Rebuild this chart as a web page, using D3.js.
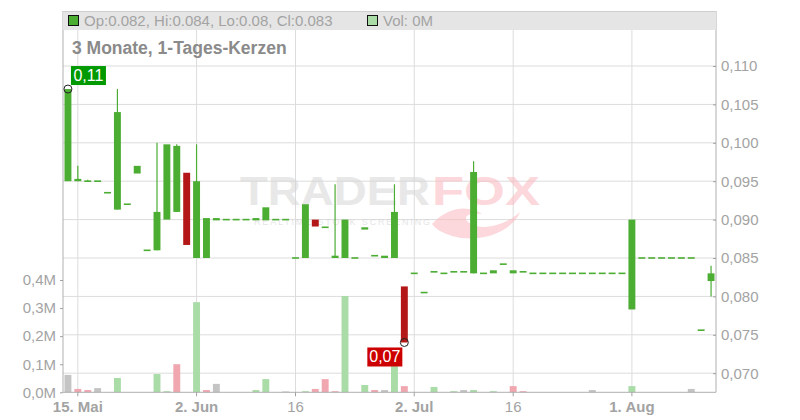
<!DOCTYPE html>
<html><head><meta charset="utf-8">
<script src="https://cdn.jsdelivr.net/npm/d3@7"></script>
<style>
html,body{margin:0;padding:0;background:#fff;}
svg{display:block;font-family:"Liberation Sans",Arial,sans-serif;}
</style></head>
<body><svg id="c" width="800" height="420"></svg>
<script>
const dates = ["2025-05-14","2025-05-15","2025-05-16","2025-05-19","2025-05-20","2025-05-21","2025-05-22","2025-05-23",
"2025-05-26","2025-05-27","2025-05-28","2025-05-29","2025-05-30","2025-06-02","2025-06-03","2025-06-04","2025-06-05","2025-06-06",
"2025-06-09","2025-06-10","2025-06-11","2025-06-12","2025-06-13","2025-06-16","2025-06-17","2025-06-18","2025-06-19","2025-06-20",
"2025-06-23","2025-06-24","2025-06-25","2025-06-26","2025-06-27","2025-06-30","2025-07-01","2025-07-02","2025-07-03","2025-07-04",
"2025-07-07","2025-07-08","2025-07-09","2025-07-10","2025-07-11","2025-07-14","2025-07-15","2025-07-16","2025-07-17","2025-07-18",
"2025-07-21","2025-07-22","2025-07-23","2025-07-24","2025-07-25","2025-07-28","2025-07-29","2025-07-30","2025-07-31","2025-08-01",
"2025-08-04","2025-08-05","2025-08-06","2025-08-07","2025-08-08","2025-08-11","2025-08-12","2025-08-13"];
const open  = [0.095,0.095,0.095,0.095,0.0935,0.0913,0.092,0.096,0.086,0.086,0.090,0.091,0.0961,0.085,0.085,0.0899,0.090,0.090,
0.090,0.0899,0.0899,0.090,0.090,0.085,0.085,0.090,0.089,0.085,0.085,0.085,0.0887,0.0853,0.085,0.085,0.0813,0.083,0.0805,0.083,
0.083,0.083,0.083,0.083,0.083,0.083,0.0842,0.083,0.083,0.083,0.083,0.083,0.083,0.083,0.083,0.083,0.083,0.083,0.083,0.0783,
0.085,0.085,0.085,0.085,0.085,0.085,0.0756,0.082];
const high  = [0.107,0.097,0.0952,0.095,0.0935,0.107,0.092,0.097,0.086,0.100,0.0998,0.0998,0.0961,0.0998,0.0902,0.0902,0.090,0.090,
0.090,0.0902,0.0916,0.090,0.090,0.085,0.092,0.090,0.089,0.0946,0.090,0.085,0.089,0.0853,0.0853,0.0946,0.0813,0.083,0.0805,0.0832,
0.083,0.0832,0.0832,0.0976,0.083,0.0834,0.0842,0.0834,0.0832,0.083,0.083,0.083,0.083,0.083,0.083,0.083,0.083,0.083,0.083,0.090,
0.085,0.085,0.085,0.085,0.085,0.085,0.0756,0.084];
const low   = [0.095,0.095,0.095,0.095,0.0935,0.0913,0.092,0.096,0.086,0.086,0.090,0.091,0.0867,0.085,0.085,0.0899,0.090,0.090,
0.090,0.0899,0.0899,0.090,0.090,0.085,0.085,0.0891,0.089,0.085,0.085,0.085,0.0887,0.0853,0.085,0.085,0.074,0.083,0.0805,0.083,
0.083,0.083,0.083,0.083,0.083,0.083,0.0842,0.083,0.083,0.083,0.083,0.083,0.083,0.083,0.083,0.083,0.083,0.083,0.083,0.0783,
0.085,0.085,0.085,0.085,0.085,0.085,0.0756,0.080];
const close = [0.107,0.0953,0.095,0.095,0.0935,0.104,0.092,0.097,0.086,0.091,0.0998,0.0996,0.0867,0.095,0.0902,0.0902,0.090,0.090,
0.090,0.0902,0.0916,0.090,0.090,0.085,0.092,0.0891,0.089,0.0853,0.090,0.085,0.089,0.0853,0.0853,0.091,0.074,0.083,0.0805,0.0832,
0.083,0.0832,0.0832,0.0962,0.083,0.0834,0.0842,0.0834,0.0832,0.083,0.083,0.083,0.083,0.083,0.083,0.083,0.083,0.083,0.083,0.090,
0.085,0.085,0.085,0.085,0.085,0.085,0.0756,0.083];
const volume = [0.062,0.012,0.008,0.015,0,0.051,0,0,0,0.065,0.004,0.100,0,0.321,0.008,0.030,0,0,
0,0.008,0.047,0,0.003,0,0.004,0.012,0.047,0.004,0.343,0,0.026,0.008,0.008,0.12,0.022,0,0,0.019,
0,0.004,0.008,0.008,0,0.004,0,0.022,0.004,0,0,0,0,0,0,0.008,0,0,0,0.022,
0,0,0,0,0,0.012,0,0];
const tickDates  = ["2025-05-15","2025-06-02","2025-06-16","2025-07-02","2025-07-16","2025-08-01"];
const tickLabels = ["15. Mai","2. Jun","16","2. Jul","16","1. Aug"];
const tickBold   = [true,true,false,true,false,true];
const priceTicks = [0.070,0.075,0.080,0.085,0.090,0.095,0.100,0.105,0.110];
const volTicks   = [0,0.1,0.2,0.3,0.4];
const title = "3 Monate, 1-Tages-Kerzen";

const svg = d3.select("#c");
const L = 63, R = 716, T = 11, B = 392.3;
const x = d3.scaleBand().domain(dates).range([L, R]).padding(0);
const step = x.step(), bw = step * 0.7;
const cx = d => x(d) + step / 2;
const y = d3.scaleLinear().domain([0.070, 0.110]).range([373.2, 66]);
const yv = d3.scaleLinear().domain([0, 0.4]).range([B, 280]);
const fmtP = v => d3.format(".3f")(v).replace(".", ",");
const fmtV = v => d3.format(".1f")(v).replace(".", ",") + "M";
const grey = "#a3a3a3", grid = "#dcdcdc";
const GREEN = "#4cad33", RED = "#b31717";

// grid
svg.append("g").selectAll("line").data(priceTicks).join("line")
  .attr("x1", L).attr("x2", R).attr("y1", d => y(d)).attr("y2", d => y(d))
  .attr("stroke", grid).attr("stroke-width", 1);
svg.append("g").selectAll("line").data(tickDates).join("line")
  .attr("x1", d => cx(d)).attr("x2", d => cx(d)).attr("y1", T).attr("y2", B)
  .attr("stroke", grid).attr("stroke-width", 1);

// watermark
const wm = svg.append("g").attr("opacity", 0.55);
wm.append("text").attr("x", 240).attr("y", 205).attr("font-size", 40).attr("font-weight", "bold")
  .attr("fill", "#d6d6d6").attr("textLength", 190).attr("lengthAdjust", "spacingAndGlyphs").text("TRADER");
wm.append("text").attr("x", 432).attr("y", 205).attr("font-size", 40).attr("font-weight", "bold")
  .attr("fill", "#fbb9c0").attr("textLength", 108).attr("lengthAdjust", "spacingAndGlyphs").text("FOX");
wm.append("text").attr("x", 254).attr("y", 225).attr("font-size", 9)
  .attr("fill", "#d0d0d0").attr("textLength", 176).attr("lengthAdjust", "spacing").text("REALTIME STOCK SCREENING");
wm.append("path").attr("d", "M432,224 C450,205 470,206 482,214 C470,212 462,216 468,222 C480,232 505,226 520,212 C512,232 480,244 452,236 C444,233 436,230 432,224 Z")
  .attr("fill", "#fbb9c0");

// volume bars
const vcol = i => i === 0 ? "#c4c4c4" : (close[i] > close[i-1] ? "#a9dca6" : (close[i] < close[i-1] ? "#f1a7b0" : "#c4c4c4"));
svg.append("g").selectAll("rect").data(dates).join("rect")
  .attr("x", d => x(d) + (step - bw) / 2).attr("width", bw)
  .attr("y", (d, i) => yv(volume[i])).attr("height", (d, i) => B - yv(volume[i]))
  .attr("fill", (d, i) => vcol(i));

// candles
const cg = svg.append("g");
dates.forEach((d, i) => {
  const col = close[i] < open[i] ? RED : GREEN;
  if (high[i] > Math.max(open[i], close[i]) || low[i] < Math.min(open[i], close[i])) {
    cg.append("line").attr("x1", cx(d)).attr("x2", cx(d)).attr("y1", y(high[i])).attr("y2", y(low[i]))
      .attr("stroke", col).attr("stroke-width", 1.2);
  }
  const top = y(Math.max(open[i], close[i])), bot = y(Math.min(open[i], close[i]));
  const h = Math.max(bot - top, 1.6);
  cg.append("rect").attr("x", x(d) + (step - bw) / 2).attr("width", bw)
    .attr("y", h === bot - top ? top : top - 0.8).attr("height", h).attr("fill", col);
});

// axes lines
svg.append("line").attr("x1", L).attr("x2", L).attr("y1", T).attr("y2", B).attr("stroke", "#b0b0b0");
svg.append("line").attr("x1", R).attr("x2", R).attr("y1", T).attr("y2", B).attr("stroke", "#b0b0b0");
svg.append("line").attr("x1", L).attr("x2", R).attr("y1", B).attr("y2", B).attr("stroke", "#b0b0b0");

// right price axis
const ra = svg.append("g").attr("transform", `translate(${R},0)`)
  .call(d3.axisRight(y).tickValues(priceTicks).tickFormat(fmtP).tickSizeInner(-3).tickSizeOuter(0).tickPadding(5));
ra.select(".domain").remove();
ra.selectAll("line").attr("stroke", "#a0a0a0");
ra.selectAll("text").attr("fill", grey).attr("font-size", 15).attr("font-family", "Liberation Sans, Arial, sans-serif");

// left volume axis
const la = svg.append("g").attr("transform", `translate(${L},0)`)
  .call(d3.axisLeft(yv).tickValues(volTicks).tickFormat(fmtV).tickSizeInner(3).tickSizeOuter(0).tickPadding(4));
la.select(".domain").remove();
la.selectAll("line").attr("stroke", "#a0a0a0");
la.selectAll("text").attr("fill", grey).attr("font-size", 15).attr("font-family", "Liberation Sans, Arial, sans-serif");

// bottom axis
const ba = svg.append("g").attr("transform", `translate(0,${B})`)
  .call(d3.axisBottom(x).tickValues(tickDates).tickFormat((d, i) => tickLabels[i]).tickSizeInner(4).tickSizeOuter(0).tickPadding(5));
ba.select(".domain").remove();
ba.selectAll("line").attr("stroke", "#a0a0a0");
ba.selectAll("text").attr("fill", grey).attr("font-size", 15).attr("font-family", "Liberation Sans, Arial, sans-serif")
  .attr("font-weight", (d, i) => tickBold[i] ? "bold" : "normal");

// header
const last = dates.length - 1;
svg.append("rect").attr("x", L).attr("y", T).attr("width", R - L).attr("height", 19).attr("fill", "#e5e5e5");
svg.append("line").attr("x1", L).attr("x2", R).attr("y1", T + 0.5).attr("y2", T + 0.5).attr("stroke", "#cfcfcf");
svg.append("rect").attr("x", 68.5).attr("y", 15.5).attr("width", 10).attr("height", 10).attr("fill", GREEN).attr("stroke", "#111");
const fmtH = v => String(+v.toFixed(3));
svg.append("text").attr("x", 84).attr("y", 26).attr("font-size", 15).attr("fill", grey)
  .text(`Op:${fmtH(open[last])}, Hi:${fmtH(high[last])}, Lo:${fmtH(low[last])}, Cl:${fmtH(close[last])}`);
svg.append("rect").attr("x", 367.5).attr("y", 15.5).attr("width", 10).attr("height", 10).attr("fill", "#a9dca6").attr("stroke", "#111");
svg.append("text").attr("x", 383).attr("y", 26).attr("font-size", 15).attr("fill", grey).text(`Vol: ${volume[last]}M`);

svg.append("text").attr("x", 72).attr("y", 54).attr("font-size", 17.5).attr("font-weight", "bold").attr("fill", "#8a8a8a").text(title);

// max / min labels
const iMax = d3.maxIndex(high), iMin = d3.minIndex(low);
const mx = cx(dates[iMax]), my = y(high[iMax]);
const nx = cx(dates[iMin]), ny = y(low[iMin]);
svg.append("rect").attr("x", mx + 3).attr("y", my - 23).attr("width", 35).attr("height", 19).attr("fill", "#009a00");
svg.append("text").attr("x", mx + 20.5).attr("y", my - 8).attr("text-anchor", "middle").attr("font-size", 16)
  .attr("fill", "#fff").text(d3.format(".2f")(high[iMax]).replace(".", ","));
svg.append("circle").attr("cx", mx).attr("cy", my).attr("r", 4).attr("fill", "none").attr("stroke", "#222").attr("stroke-width", 1);
svg.append("rect").attr("x", nx - 37).attr("y", ny + 5).attr("width", 35).attr("height", 19).attr("fill", "#cc0000");
svg.append("text").attr("x", nx - 19.5).attr("y", ny + 20).attr("text-anchor", "middle").attr("font-size", 16)
  .attr("fill", "#fff").text(d3.format(".2f")(low[iMin]).replace(".", ","));
svg.append("circle").attr("cx", nx).attr("cy", ny).attr("r", 4).attr("fill", "none").attr("stroke", "#222").attr("stroke-width", 1);
</script></body></html>
